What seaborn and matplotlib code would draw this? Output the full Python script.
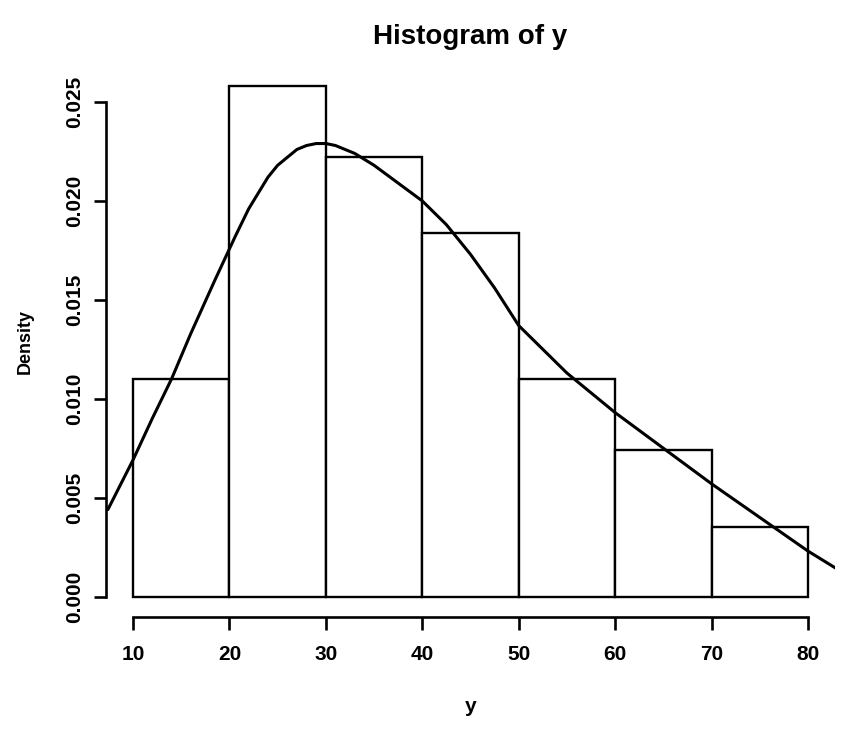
import seaborn as sns
import matplotlib.pyplot as plt
import pandas as pd

# histogram bins and densities
bin_edges = [10, 20, 30, 40, 50, 60, 70, 80]
bin_density = [0.0110, 0.0258, 0.0222, 0.0184, 0.0110, 0.0074, 0.0035]

# density curve points
curve_x = [7.4, 10, 12, 14, 16, 18.5, 20.6, 22, 23, 24, 25, 26, 27, 28, 29, 30,
           31, 32, 33, 35, 37.5, 40, 42.5, 45, 47.5, 50, 55, 60, 65, 70, 75,
           80, 83]
curve_y = [0.0044, 0.0069, 0.0090, 0.0110, 0.0133, 0.0160, 0.0182, 0.0196,
           0.0204, 0.0212, 0.0218, 0.0222, 0.0226, 0.0228, 0.0229, 0.0229,
           0.0228, 0.0226, 0.0224, 0.0218, 0.0209, 0.0200, 0.0188, 0.0173,
           0.0156, 0.0137, 0.0113, 0.0093, 0.0075, 0.0057, 0.0040, 0.0023,
           0.0014]

x_ticks = [10, 20, 30, 40, 50, 60, 70, 80]
y_ticks = [0.000, 0.005, 0.010, 0.015, 0.020, 0.025]

sns.set_style("ticks")
plt.rcParams['font.family'] = ['Liberation Sans', 'DejaVu Sans']
plt.rcParams['font.weight'] = 'bold'
plt.rcParams['text.color'] = 'black'
plt.rcParams['axes.labelcolor'] = 'black'
plt.rcParams['xtick.color'] = 'black'
plt.rcParams['ytick.color'] = 'black'
plt.rcParams['axes.edgecolor'] = 'black'

bins_df = pd.DataFrame({
    "mid": [(a + b) / 2 for a, b in zip(bin_edges[:-1], bin_edges[1:])],
    "density": bin_density,
})
curve_df = pd.DataFrame({"x": curve_x, "y": curve_y})

fig = plt.figure(figsize=(8.43, 7.31), dpi=100)
ax = fig.add_axes([0.1257, 0.156, 0.8648, 0.754])

sns.histplot(data=bins_df, x="mid", weights="density", bins=bin_edges,
             stat="count", color="white", edgecolor="black", linewidth=1.7,
             alpha=1, ax=ax)
sns.lineplot(data=curve_df, x="x", y="y", color="black", linewidth=2.2, ax=ax)

ax.set_xlim(7.2, 82.8)
ax.set_ylim(-0.00103, 0.02683)

ax.spines['top'].set_visible(False)
ax.spines['right'].set_visible(False)
ax.spines['left'].set_bounds(0, 0.025)
ax.spines['bottom'].set_bounds(10, 80)
ax.spines['left'].set_linewidth(1.9)
ax.spines['bottom'].set_linewidth(1.9)

ax.set_xticks(x_ticks)
ax.set_xticklabels([str(t) for t in x_ticks])
ax.set_yticks(y_ticks)
ax.set_yticklabels([f"{t:.3f}" for t in y_ticks], rotation=90, va='center')
ax.tick_params(axis='both', length=9, width=1.9, labelsize=15)
ax.tick_params(axis='x', pad=11)
ax.tick_params(axis='y', pad=7)

ax.set_title("Histogram of y", fontsize=20, fontweight='bold', pad=16)
ax.set_xlabel("y", fontsize=15, fontweight='bold', labelpad=24)
ax.set_ylabel("Density", fontsize=13, fontweight='bold', labelpad=22)

fig.savefig("out.png", dpi=100, facecolor="white")
